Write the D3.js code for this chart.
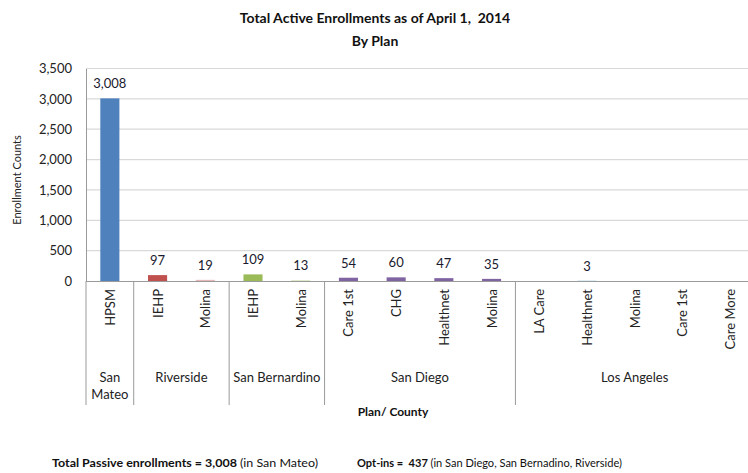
<!DOCTYPE html>
<html><head><meta charset="utf-8">
<script src="https://cdn.jsdelivr.net/npm/d3@7"></script>
<style>
body{margin:0;background:#fff;}
text{font-family:Lato,"Open Sans",sans-serif;white-space:pre;}
</style></head>
<body><svg id="c" width="748" height="473"></svg>
<script>
const plans = ["HPSM","IEHP","Molina","IEHP","Molina","Care 1st","CHG","Healthnet","Molina","LA Care","Healthnet","Molina","Care 1st","Care More"];
const counties = ["San Mateo","Riverside","Riverside","San Bernardino","San Bernardino","San Diego","San Diego","San Diego","San Diego","Los Angeles","Los Angeles","Los Angeles","Los Angeles","Los Angeles"];
const values = [3008,97,19,109,13,54,60,47,35,null,3,null,null,null];
const colors = ["#4F81BD","#C0504D","#E6B9B8","#9BBB59","#D7E4BD","#8064A2","#8064A2","#8064A2","#8064A2","#4BACC6","#4BACC6","#4BACC6","#4BACC6","#4BACC6"];
const groups = [["San Mateo",0,1],["Riverside",1,3],["San Bernardino",3,5],["San Diego",5,9],["Los Angeles",9,14]];
const yTicks = [0,500,1000,1500,2000,2500,3000,3500];

const svg = d3.select("#c");
const x = d3.scaleBand().domain(d3.range(plans.length)).range([86,754]).paddingInner(0.6).paddingOuter(0.3);
const y = d3.scaleLinear().domain([0,3500]).range([281,68.5]);
const fmt = d3.format(",");

// gridlines
svg.append("g").selectAll("line").data(yTicks.slice(1)).join("line")
  .attr("x1",86).attr("x2",748).attr("y1",d=>y(d)).attr("y2",d=>y(d))
  .attr("stroke","#D9D9D9").attr("stroke-width",1.2);

// y axis
const ya = svg.append("g").attr("transform","translate(86,0)")
  .call(d3.axisLeft(y).tickValues(yTicks).tickFormat(fmt).tickSize(0).tickPadding(14));
ya.select(".domain").attr("stroke","#9a9a9a");
ya.selectAll("text").attr("font-size",13).attr("fill","#222");

// bars
svg.append("g").selectAll("rect").data(values.map((v,i)=>({v,i}))).join("rect")
  .filter(d=>d.v!==null)
  .attr("x",d=>x(d.i)).attr("width",x.bandwidth())
  .attr("y",d=>y(d.v)).attr("height",d=>y(0)-y(d.v))
  .attr("fill",d=>colors[d.i]);

// value labels
svg.append("g").selectAll("text").data(values.map((v,i)=>({v,i}))).join("text")
  .filter(d=>d.v!==null)
  .attr("x",d=>x(d.i)+x.bandwidth()/2).attr("y",d=>y(d.v)-10)
  .attr("text-anchor","middle").attr("font-size",13).attr("fill","#1a1a2e")
  .text(d=>fmt(d.v));

// x axis line
const step = x.step();
svg.append("line").attr("x1",86).attr("x2",748).attr("y1",281.5).attr("y2",281.5).attr("stroke","#9a9a9a");

// group separators
const bounds = [0,1,3,5,9];
svg.append("g").selectAll("line").data(bounds).join("line")
  .attr("x1",d=>86+d*step).attr("x2",d=>86+d*step)
  .attr("y1",281).attr("y2",405).attr("stroke","#9a9a9a");

// plan labels (rotated)
svg.append("g").selectAll("text").data(plans).join("text")
  .attr("transform",(d,i)=>`translate(${x(i)+x.bandwidth()/2+5},289) rotate(-90)`)
  .attr("text-anchor","end").attr("font-size",13).attr("fill","#222")
  .text(d=>d);

// county labels
const gl = svg.append("g");
groups.forEach(([name,a,b])=>{
  const cx = 86+(a+b)/2*step;
  if(name==="San Mateo"){
    gl.append("text").attr("x",cx).attr("y",382).attr("text-anchor","middle").attr("font-size",13).attr("fill","#222").text("San");
    gl.append("text").attr("x",cx).attr("y",399).attr("text-anchor","middle").attr("font-size",13).attr("fill","#222").text("Mateo");
  } else {
    gl.append("text").attr("x",cx).attr("y",382).attr("text-anchor","middle").attr("font-size",13).attr("fill","#222").text(name);
  }
});

// titles
svg.append("text").attr("x",375).attr("y",23).attr("text-anchor","middle").attr("font-size",14).attr("font-weight","bold").attr("fill","#111").text("Total Active Enrollments as of April 1,  2014");
svg.append("text").attr("x",375).attr("y",46).attr("text-anchor","middle").attr("font-size",14).attr("font-weight","bold").attr("fill","#111").text("By Plan");
svg.append("text").attr("x",393).attr("y",416).attr("text-anchor","middle").attr("font-size",12).attr("font-weight","bold").attr("fill","#111").text("Plan/ County");
svg.append("text").attr("transform","translate(21,180) rotate(-90)").attr("text-anchor","middle").attr("font-size",11).attr("fill","#222").text("Enrollment Counts");

// footer
const f1 = svg.append("text").attr("x",52).attr("y",467).attr("font-size",10.5).attr("fill","#111").attr("textLength",266).attr("lengthAdjust","spacingAndGlyphs");
f1.append("tspan").attr("font-weight","bold").text("Total Passive enrollments = 3,008 ");
f1.append("tspan").text("(in San Mateo)");
const f2 = svg.append("text").attr("x",357).attr("y",467).attr("font-size",10.5).attr("fill","#111").attr("textLength",265).attr("lengthAdjust","spacingAndGlyphs");
f2.append("tspan").attr("font-weight","bold").text("Opt-ins =  437 ");
f2.append("tspan").text("(in San Diego, San Bernadino, Riverside)");
</script></body></html>
